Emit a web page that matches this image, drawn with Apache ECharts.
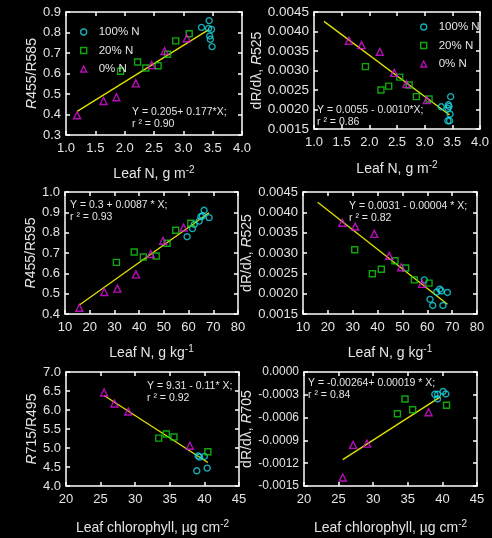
<!DOCTYPE html>
<html><head><meta charset="utf-8">
<script src="https://cdn.jsdelivr.net/npm/echarts@6/dist/echarts.min.js"></script>
<style>html,body{margin:0;padding:0;background:#000;}#c{width:492px;height:538px;}</style>
</head><body><div id="c"></div>
<script>
// ---- data ----
const seriesNames = ['100% N', '20% N', '0% N'];

const p1_100 = [[3.31,0.825],[3.44,0.858],[3.43,0.82],[3.48,0.815],[3.45,0.783],[3.46,0.767],[3.49,0.731]];
const p1_20  = [[1.93,0.611],[2.22,0.656],[2.36,0.627],[2.57,0.638],[2.73,0.694],[2.87,0.759],[3.10,0.794]];
const p1_0   = [[1.19,0.396],[1.64,0.466],[1.86,0.484],[2.19,0.552],[2.46,0.641],[2.68,0.71],[3.06,0.772]];
const fit1   = [[1.19,0.415],[3.44,0.815]];

const p2_100 = [[3.30,0.00207],[3.47,0.00233],[3.43,0.00212],[3.42,0.00203],[3.44,0.00208],[3.46,0.00188],[3.42,0.00171],[3.45,0.00171]];
const p2_20  = [[1.93,0.0031],[2.21,0.0025],[2.35,0.0026],[2.55,0.00283],[2.72,0.00263],[2.85,0.00233],[3.08,0.00227]];
const p2_0   = [[1.63,0.00376],[1.86,0.00365],[2.19,0.00348],[2.45,0.00294],[2.67,0.00265],[3.04,0.00224]];
const fit2   = [[1.18,0.00426],[3.45,0.00186]];

const p3_100 = [[59.4,0.78],[61.6,0.82],[62.3,0.841],[64.3,0.857],[65.0,0.879],[65.6,0.883],[66.3,0.91],[68.3,0.874]];
const p3_20  = [[30.8,0.654],[38.0,0.705],[41.7,0.68],[46.9,0.685],[51.3,0.748],[54.8,0.812],[60.9,0.846]];
const p3_0   = [[15.8,0.431],[25.9,0.508],[31.2,0.525],[38.7,0.595],[44.7,0.695],[49.7,0.76],[58.0,0.825]];
const fit3   = [[15.8,0.444],[68.3,0.898]];

const p4_100 = [[58.8,0.00234],[63.8,0.00204],[65.0,0.00211],[65.6,0.00207],[68.1,0.00203],[61.1,0.00186],[62.2,0.00171],[66.3,0.00171]];
const p4_20  = [[30.8,0.00308],[37.9,0.00249],[41.5,0.0026],[47.0,0.00281],[51.3,0.00263],[54.8,0.00234],[60.7,0.00226]];
const p4_0   = [[25.8,0.003745],[31.0,0.00365],[38.7,0.00347],[44.7,0.00293],[49.5,0.00265],[57.9,0.00224]];
const fit4   = [[15.9,0.00425],[68.1,0.00174]];

const p5_100 = [[39.1,4.79],[39.3,4.76],[40.0,4.78],[38.9,4.40],[40.4,4.47]];
const p5_20  = [[33.4,5.26],[34.5,5.37],[35.6,5.29],[40.5,4.90]];
const p5_0   = [[25.5,6.46],[27.0,6.17],[29.0,5.96],[37.9,5.06]];
const fit5   = [[25.5,6.38],[40.5,4.62]];

const p6_100 = [[38.9,-0.000293],[39.3,-0.000293],[39.3,-0.000355],[40.1,-0.000256],[40.5,-0.000289]];
const p6_20  = [[33.5,-0.000549],[34.6,-0.000355],[35.7,-0.000496],[40.6,-0.000438]];
const p6_0   = [[25.6,-0.001388],[27.1,-0.000959],[29.1,-0.000942],[38.0,-0.000529]];
const fit6   = [[25.6,-0.001153],[39.65,-0.000331]];

// axis ranges / tick labels
const xRanges = [[1,4,0.5,1],[1,4,0.5,1],[10,80,10,0],[10,80,10,0],[20,45,5,0],[20,45,5,0]];
const yRanges = [[0.3,0.9,0.1,1],[0.0015,0.0045,0.0005,4],[0.4,1.0,0.1,1],[0.0015,0.0045,0.0005,4],[4,7,0.5,1],[-0.0015,0,0.0003,4]];
const xTitles = [
  'Leaf N, g m{sup|-2}', 'Leaf N, g m{sup|-2}',
  'Leaf N, g kg{sup|-1}', 'Leaf N, g kg{sup|-1}',
  'Leaf chlorophyll, \u00b5g cm{sup|-2}', 'Leaf chlorophyll, \u00b5g cm{sup|-2}'
];
const yTitles = [
  '{i|R}455/R585', 'dR/d\u03bb, {i|R}525',
  '{i|R}455/R595', 'dR/d\u03bb, {i|R}525',
  '{i|R}715/R495', 'dR/d\u03bb, {i|R}705'
];
const eqTexts = [
  ['Y = 0.205+ 0.177*X;', 'r \u00b2 = 0.90'],
  ['Y = 0.0055 - 0.0010*X;', 'r \u00b2 = 0.86'],
  ['Y = 0.3 + 0.0087 * X;', 'r \u00b2 = 0.93'],
  ['Y = 0.0031 - 0.00004 * X;', 'r \u00b2 = 0.82'],
  ['Y = 9.31 - 0.11* X;', 'r \u00b2 = 0.92'],
  ['Y = -0.00264+ 0.00019 * X;', 'r \u00b2 = 0.84']
];
const panels = [
  [p1_100, p1_20, p1_0, fit1],
  [p2_100, p2_20, p2_0, fit2],
  [p3_100, p3_20, p3_0, fit3],
  [p4_100, p4_20, p4_0, fit4],
  [p5_100, p5_20, p5_0, fit5],
  [p6_100, p6_20, p6_0, fit6]
];

// ---- layout & style ----
const FONT = '"Liberation Sans", Arial, sans-serif';
const TXT = '#e4e4e4';
const colors = ['#1ad6e0', '#14d014', '#e012e0'];
const symbols = ['circle', 'rect', 'triangle'];
const symSizes = [6, 6, 7];
const grids = [
  {left: 66, top: 12, width: 176, height: 123},
  {left: 314, top: 12, width: 168, height: 117},
  {left: 65, top: 192, width: 173, height: 122},
  {left: 303, top: 192, width: 174, height: 122},
  {left: 66, top: 372, width: 173, height: 121},
  {left: 304, top: 372, width: 173, height: 121}
];
const yLabelSize = [13, 13.5, 13, 13, 13, 12];
const xNameGap = [30, 31, 30, 30, 33, 33];
const yNameGap = [26, 50, 20, 44, 20, 47];
const eqPos = [[132, 106], [317, 104], [70, 199], [349, 200], [147, 380], [308, 377]];

const lineStyle = {color: '#ffffff', width: 1.5};
const xAxes = [], yAxes = [], series = [], graphics = [];

grids.forEach((g, i) => {
  const [xmin, xmax, xint, xdec] = xRanges[i];
  const [ymin, ymax, yint, ydec] = yRanges[i];
  const rich = {
    sup: {fontSize: 10, fontFamily: FONT, color: TXT, verticalAlign: 'top', lineHeight: 10},
    i: {fontSize: 14, fontFamily: FONT, color: TXT, fontStyle: 'italic'}
  };
  xAxes.push({
    type: 'value', gridIndex: i, min: xmin, max: xmax, interval: xint, position: 'bottom',
    name: xTitles[i], nameLocation: 'middle', nameGap: xNameGap[i],
    nameTextStyle: {color: TXT, fontSize: 14, fontFamily: FONT, lineHeight: 18, rich: rich},
    axisLine: {show: true, onZero: false, lineStyle: lineStyle},
    axisTick: {show: true, inside: true, length: 4, lineStyle: lineStyle},
    axisLabel: {color: TXT, fontSize: 13, fontFamily: FONT, margin: 7,
      formatter: v => Number(v).toFixed(xdec)},
    splitLine: {show: false}
  });
  xAxes.push({
    type: 'value', gridIndex: i, min: xmin, max: xmax, interval: xint, position: 'top',
    axisLine: {show: true, onZero: false, lineStyle: lineStyle},
    axisTick: {show: true, inside: true, length: 4, lineStyle: lineStyle},
    axisLabel: {show: false}, splitLine: {show: false}
  });
  yAxes.push({
    type: 'value', gridIndex: i, min: ymin, max: ymax, interval: yint, position: 'left',
    name: yTitles[i], nameLocation: 'middle', nameGap: yNameGap[i],
    nameTextStyle: {color: TXT, fontSize: 14, fontFamily: FONT, rich: rich},
    axisLine: {show: true, onZero: false, lineStyle: lineStyle},
    axisTick: {show: true, inside: true, length: 4, lineStyle: lineStyle},
    axisLabel: {color: TXT, fontSize: yLabelSize[i], fontFamily: FONT, margin: 5,
      formatter: v => Number(v).toFixed(ydec)},
    splitLine: {show: false}
  });
  yAxes.push({
    type: 'value', gridIndex: i, min: ymin, max: ymax, interval: yint, position: 'right',
    axisLine: {show: true, onZero: false, lineStyle: lineStyle},
    axisTick: {show: true, inside: true, length: 4, lineStyle: lineStyle},
    axisLabel: {show: false}, splitLine: {show: false}
  });
  const d = panels[i];
  series.push({
    type: 'line', xAxisIndex: 2 * i, yAxisIndex: 2 * i, data: d[3],
    showSymbol: false, symbol: 'none', silent: true,
    lineStyle: {color: '#e2e200', width: 1.3}, z: 1, animation: false
  });
  for (let k = 0; k < 3; k++) {
    series.push({
      type: 'scatter', name: seriesNames[k], xAxisIndex: 2 * i, yAxisIndex: 2 * i,
      data: d[k], symbol: symbols[k], symbolSize: symSizes[k],
      itemStyle: {color: 'rgba(0,0,0,0)', borderColor: colors[k], borderWidth: 1.4},
      z: 3, animation: false
    });
  }
  graphics.push({
    type: 'text', left: eqPos[i][0], top: eqPos[i][1],
    style: {text: eqTexts[i].join('\n'), fill: TXT, fontSize: 10.5, fontFamily: FONT, lineHeight: 12}
  });
});

const legendData = seriesNames.map((n, k) => ({
  name: n, icon: symbols[k],
  itemStyle: {color: 'rgba(0,0,0,0)', borderColor: colors[k], borderWidth: 1.4}
}));
const legendCommon = {
  orient: 'vertical', itemWidth: 6, itemHeight: 6, itemGap: 6.5, selectedMode: false,
  textStyle: {color: TXT, fontSize: 11.5, fontFamily: FONT, padding: [0, 0, 0, 7]},
  data: legendData
};

const chart = echarts.init(document.getElementById('c'), null, {renderer: 'canvas'});
chart.setOption({
  backgroundColor: '#000000',
  animation: false,
  grid: grids,
  xAxis: xAxes,
  yAxis: yAxes,
  series: series,
  legend: [
    Object.assign({left: 75, top: 21}, legendCommon),
    Object.assign({left: 415, top: 16}, legendCommon)
  ],
  graphic: graphics
});
</script>
</body></html>
